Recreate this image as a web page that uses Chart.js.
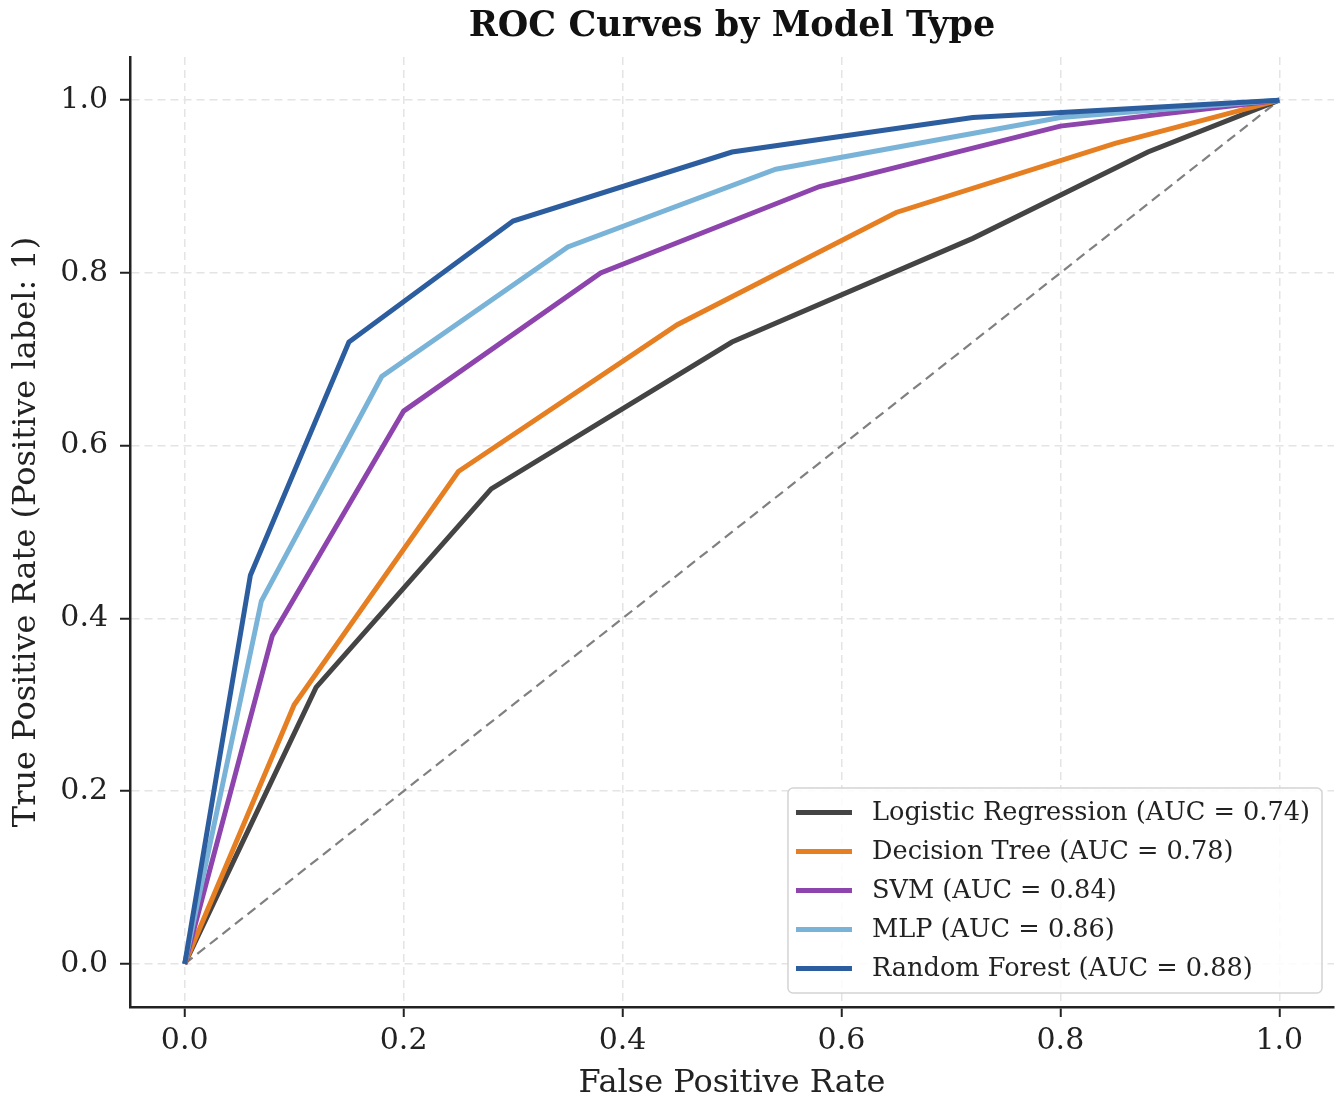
<!DOCTYPE html>
<html>
<head>
<meta charset="utf-8">
<script src="https://cdn.jsdelivr.net/npm/chart.js@4.4.1/dist/chart.umd.min.js"></script>
<style>
  html, body { margin: 0; padding: 0; background: #fff; }
  #wrap { width: 1336px; height: 1100px; }
</style>
</head>
<body>
<div id="wrap"><canvas id="rocChart"></canvas></div>
<script>
const modelNames = ['Logistic Regression', 'Decision Tree', 'SVM', 'MLP', 'Random Forest'];
const aucValues = [0.74, 0.78, 0.84, 0.86, 0.88];
const modelColors = ['#444444', '#e67e22', '#8e44ad', '#7ab3d8', '#2c5d9f'];

const lrFpr = [0, 0.12, 0.28, 0.50, 0.72, 0.88, 1.0];
const lrTpr = [0, 0.32, 0.55, 0.72, 0.84, 0.94, 1.0];
const dtFpr = [0, 0.10, 0.25, 0.45, 0.65, 0.85, 1.0];
const dtTpr = [0, 0.30, 0.57, 0.74, 0.87, 0.95, 1.0];
const svmFpr = [0, 0.08, 0.20, 0.38, 0.58, 0.80, 1.0];
const svmTpr = [0, 0.38, 0.64, 0.80, 0.90, 0.97, 1.0];
const mlpFpr = [0, 0.07, 0.18, 0.35, 0.54, 0.80, 1.0];
const mlpTpr = [0, 0.42, 0.68, 0.83, 0.92, 0.98, 1.0];
const rfFpr = [0, 0.06, 0.15, 0.30, 0.50, 0.72, 1.0];
const rfTpr = [0, 0.45, 0.72, 0.86, 0.94, 0.98, 1.0];

const chanceFpr = [0, 1];
const chanceTpr = [0, 1];

const tickValues = [0, 0.2, 0.4, 0.6, 0.8, 1.0];

const chartTitle = 'ROC Curves by Model Type';
const SERIF = '"DejaVu Serif", "Liberation Serif", serif';

function toPoints(xs, ys) {
    return xs.map((x, i) => ({ x: x, y: ys[i] }));
}

const curves = [
    [lrFpr, lrTpr],
    [dtFpr, dtTpr],
    [svmFpr, svmTpr],
    [mlpFpr, mlpTpr],
    [rfFpr, rfTpr]
];

const datasets = curves.map((c, i) => ({
    label: `${modelNames[i]} (AUC = ${aucValues[i].toFixed(2)})`,
    data: toPoints(c[0], c[1]),
    borderColor: modelColors[i],
    backgroundColor: modelColors[i],
    borderWidth: 5,
    pointRadius: 0,
    tension: 0,
    inLegend: true,
    order: curves.length - i
}));

datasets.push({
    label: 'Chance',
    data: toPoints(chanceFpr, chanceTpr),
    borderColor: '#808080',
    borderWidth: 2.2,
    borderDash: [10, 6],
    pointRadius: 0,
    tension: 0,
    inLegend: false,
    order: 10
});

// title centred over the plot area (matplotlib centres on the axes, not the figure)
const axesTitle = {
    id: 'axesTitle',
    afterDraw(chart) {
        const { ctx, chartArea } = chart;
        ctx.save();
        ctx.font = `bold 35px ${SERIF}`;
        ctx.fillStyle = '#111';
        ctx.textAlign = 'center';
        ctx.textBaseline = 'middle';
        ctx.fillText(chartTitle, (chartArea.left + chartArea.right) / 2, 27);
        ctx.restore();
    }
};

// legend box drawn inside the plot, bottom right, like loc="lower right"
const legendBox = {
    id: 'legendBox',
    afterDatasetsDraw(chart) {
        const { ctx, chartArea } = chart;
        const items = chart.data.datasets.filter(d => d.inLegend);
        ctx.save();
        ctx.font = `25.6px ${SERIF}`;
        const textW = Math.max(...items.map(d => ctx.measureText(d.label).width));
        const rowH = 39;
        const w = 8 + 56 + 20 + textW + 12;
        const h = rowH * items.length + 10;
        const x = chartArea.right - 12 - w;
        const y = chartArea.bottom - 14 - h;

        ctx.beginPath();
        ctx.roundRect(x, y, w, h, 5);
        ctx.fillStyle = 'rgba(255,255,255,0.85)';
        ctx.fill();
        ctx.strokeStyle = '#d4d4d4';
        ctx.lineWidth = 1.5;
        ctx.stroke();

        items.forEach((d, i) => {
            const cy = y + 5 + rowH * (i + 0.5);
            ctx.beginPath();
            ctx.moveTo(x + 8, cy);
            ctx.lineTo(x + 64, cy);
            ctx.strokeStyle = d.borderColor;
            ctx.lineWidth = 5;
            ctx.stroke();
            ctx.fillStyle = '#222';
            ctx.textBaseline = 'middle';
            ctx.textAlign = 'left';
            ctx.fillText(d.label, x + 84, cy + 1);
        });
        ctx.restore();
    }
};

function fixedTicks(scale) {
    scale.ticks = tickValues.map(v => ({ value: v }));
}

const gridStyle = {
    color: '#e4e4e4',
    lineWidth: 1.5,
    tickColor: '#222',
    tickLength: 10,
    tickWidth: 2
};

const ctx = document.getElementById('rocChart').getContext('2d');
const rocChart = new Chart(ctx, {
    type: 'line',
    data: { datasets: datasets },
    plugins: [legendBox, axesTitle],
    options: {
        responsive: true,
        maintainAspectRatio: false,
        animation: false,
        layout: { padding: { left: 0, right: 2, top: 57, bottom: 0 } },
        plugins: {
            legend: { display: false },
            tooltip: { enabled: false },
            title: { display: false }
        },
        scales: {
            x: {
                type: 'linear',
                min: -0.05,
                max: 1.05,
                afterBuildTicks: fixedTicks,
                afterFit: scale => { scale.height = 93; },
                grid: gridStyle,
                border: { display: true, color: '#222', width: 2.5, dash: [8, 5] },
                ticks: {
                    color: '#222',
                    padding: 6,
                    font: { family: SERIF, size: 30 },
                    callback: v => v.toFixed(1)
                },
                title: {
                    display: true,
                    text: 'False Positive Rate',
                    color: '#222',
                    font: { family: SERIF, size: 32, lineHeight: 1 },
                    padding: { top: 0, bottom: 0 }
                }
            },
            y: {
                type: 'linear',
                min: -0.05,
                max: 1.05,
                afterBuildTicks: fixedTicks,
                afterFit: scale => { scale.width = 130; },
                grid: gridStyle,
                border: { display: true, color: '#222', width: 2.5, dash: [8, 5] },
                ticks: {
                    color: '#222',
                    padding: 12,
                    font: { family: SERIF, size: 30 },
                    callback: v => v.toFixed(1)
                },
                title: {
                    display: true,
                    text: 'True Positive Rate (Positive label: 1)',
                    color: '#222',
                    font: { family: SERIF, size: 32, lineHeight: 1 },
                    padding: { top: 11, bottom: 0 }
                }
            }
        }
    }
});
</script>
</body>
</html>
